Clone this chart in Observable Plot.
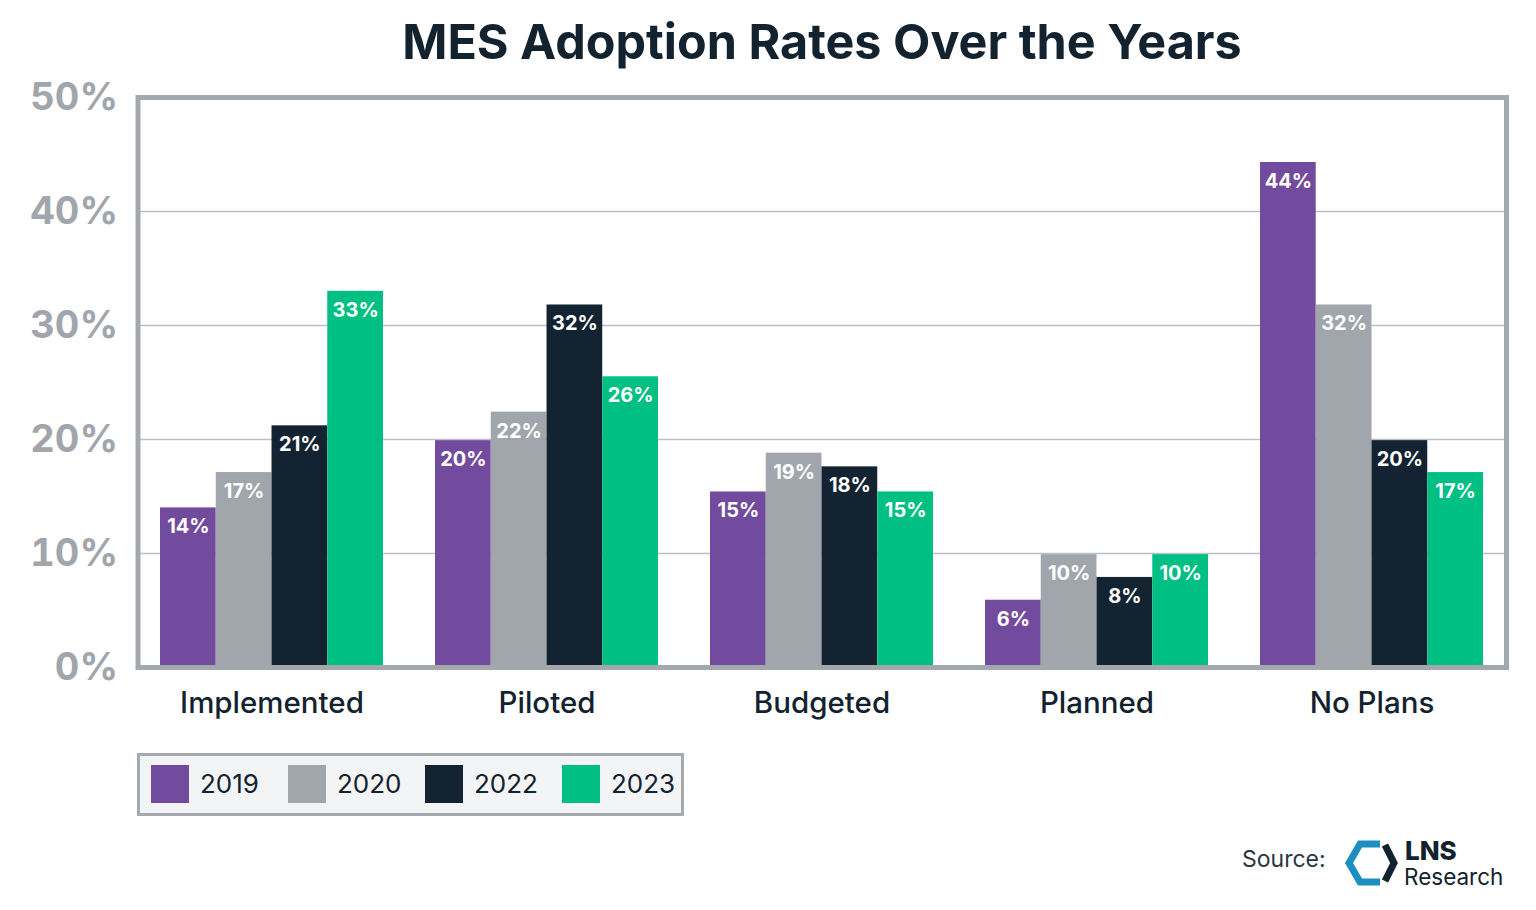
<!DOCTYPE html>
<html>
<head>
<meta charset="utf-8">
<script src="https://cdn.jsdelivr.net/npm/d3@7"></script>
<script src="https://cdn.jsdelivr.net/npm/@observablehq/plot@0.6"></script>
<style>
  html, body { margin: 0; padding: 0; background: #fff; }
  body { width: 1536px; height: 910px; position: relative; overflow: hidden; font-family: Inter, "Open Sans", sans-serif; }
  #title { position: absolute; left: 137px; width: 1370px; top: 12px; text-align: center; font-size: 48.5px; font-weight: 700; color: #13222f; }
  #chart { position: absolute; left: 0; top: 0; }
  #legend { position: absolute; left: 137px; top: 753px; width: 541px; height: 57px; border: 3px solid #a5aaaf; background: #f2f4f6; }
  .item { position: absolute; top: 9px; display: flex; align-items: center; height: 38px; }
  .sw { width: 38px; height: 38px; margin-right: 11px; }
  .lab { font-size: 26px; color: #13222f; font-weight: 400; line-height: 30px; }
  #source { position: absolute; left: 1242px; top: 846px; font-size: 23px; color: #2b3640; line-height: 26px; }
  #logo { position: absolute; left: 1340px; top: 836px; }
  #lns { position: absolute; left: 1405px; top: 840px; font-size: 26px; font-weight: 800; color: #13222f; line-height: 22px; height: 22px; }
  #research { position: absolute; left: 1404px; top: 866px; font-size: 22.5px; color: #13222f; line-height: 22px; height: 22px; }
</style>
</head>
<body>
<div id="title">MES Adoption Rates Over the Years</div>
<div id="chart"></div>
<div id="legend"></div>
<div id="source">Source:</div>
<svg id="logo" width="62" height="56" viewBox="0 0 62 56">
  <polyline points="40,8 20,8 9,27 20,46 40,46" fill="none" stroke="#1a8fc0" stroke-width="7" stroke-linejoin="miter"/>
  <polyline points="45,9 54,27 45,45" fill="none" stroke="#13222f" stroke-width="7" stroke-linejoin="miter"/>
</svg>
<div id="lns">LNS</div>
<div id="research">Research</div>
<script>
const categories = ["Implemented", "Piloted", "Budgeted", "Planned", "No Plans"];
const years = ["2019", "2020", "2022", "2023"];
const values2019 = [14, 19.9, 15.4, 5.9, 44.3];
const values2020 = [17.1, 22.4, 18.8, 9.9, 31.8];
const values2022 = [21.2, 31.8, 17.6, 7.9, 19.9];
const values2023 = [33, 25.5, 15.4, 9.9, 17.1];
const yTicks = [0, 10, 20, 30, 40, 50];
const gridTicks = [10, 20, 30, 40];
const colors = ["#724b9e", "#a1a6ac", "#132331", "#00bf83"];

const series = [values2019, values2020, values2022, values2023];

const W = 1536, ML = 137.5, MR = 30;
const paddingInner = 0.19, paddingOuter = 0.08;
const step = (W - ML - MR) / (categories.length - paddingInner + 2 * paddingOuter);
const subW = step * (1 - paddingInner) / years.length;

const barMarks = [];
const textMarks = [];
years.forEach((yr, i) => {
  const rows = categories.map((c, j) => ({category: c, year: yr, value: series[i][j]}));
  barMarks.push(Plot.barY(rows, {
    x: "category", y: "value", fill: colors[i],
    insetLeft: i * subW, insetRight: (years.length - 1 - i) * subW
  }));
  textMarks.push(Plot.text(rows, {
    x: "category", y: "value", text: d => Math.round(d.value) + "%",
    dx: (i - (years.length - 1) / 2) * subW, dy: 19, lineAnchor: "middle",
    fill: "white", fontSize: 20, fontWeight: 700
  }));
});

const chart = Plot.plot({
  width: W,
  height: 740,
  marginLeft: ML,
  marginRight: MR,
  marginTop: 97,
  marginBottom: 73,
  style: {fontFamily: "Inter, 'Open Sans', sans-serif", background: "transparent"},
  x: {domain: categories, paddingInner, paddingOuter, axis: null},
  y: {domain: [0, 50], axis: null},
  marks: [
    Plot.ruleY(gridTicks, {stroke: "#bcc0c5", strokeWidth: 1.5}),
    ...barMarks,
    ...textMarks,
    Plot.axisY(yTicks, {tickSize: 0, tickPadding: 20, tickFormat: d => d + "%", fontSize: 38, fontWeight: 700, fill: "#a1a6ac", label: null}),
    Plot.axisX({tickSize: 0, tickPadding: 25, fontSize: 29.5, fontWeight: 500, fill: "#13222f", label: null}),
    Plot.frame({stroke: "#a3a8ad", strokeWidth: 5})
  ]
});
document.getElementById("chart").appendChild(chart);

const legend = document.getElementById("legend");
years.forEach((yr, i) => {
  const item = document.createElement("div");
  item.className = "item";
  item.style.left = (11 + i * 137) + "px";
  const sw = document.createElement("div");
  sw.className = "sw";
  sw.style.background = colors[i];
  const lab = document.createElement("span");
  lab.className = "lab";
  lab.textContent = yr;
  item.appendChild(sw);
  item.appendChild(lab);
  legend.appendChild(item);
});
</script>
</body>
</html>
